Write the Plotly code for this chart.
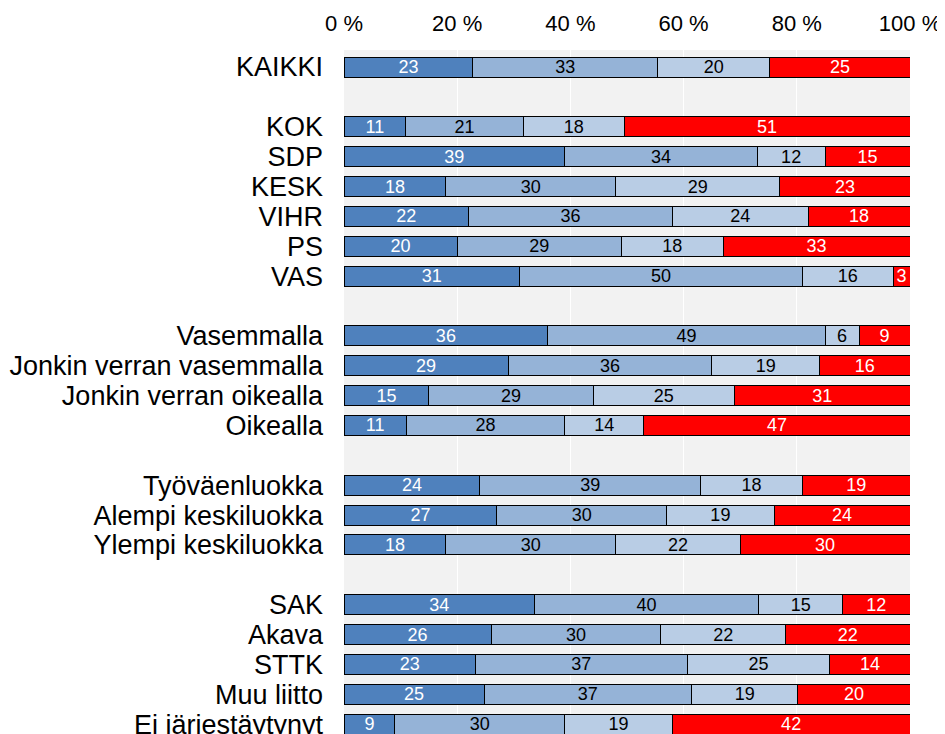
import plotly.graph_objects as go

# Data
categories = [
    "KAIKKI",
    "KOK", "SDP", "KESK", "VIHR", "PS", "VAS",
    "Vasemmalla", "Jonkin verran vasemmalla", "Jonkin verran oikealla", "Oikealla",
    "Työväenluokka", "Alempi keskiluokka", "Ylempi keskiluokka",
    "SAK", "Akava", "STTK", "Muu liitto", "Ei järjestäytynyt",
]
group_sizes = [1, 6, 4, 3, 5]

s1 = [23, 11, 39, 18, 22, 20, 31, 36, 29, 15, 11, 24, 27, 18, 34, 26, 23, 25, 9]
s2 = [33, 21, 34, 30, 36, 29, 50, 49, 36, 29, 28, 39, 30, 30, 40, 30, 37, 37, 30]
s3 = [20, 18, 12, 29, 24, 18, 16, 6, 19, 25, 14, 18, 19, 22, 15, 22, 25, 19, 19]
s4 = [25, 51, 15, 23, 18, 33, 3, 9, 16, 31, 47, 19, 24, 30, 12, 22, 14, 20, 42]

x_ticks = [0, 20, 40, 60, 80, 100]
x_ticklabels = ["0 %", "20 %", "40 %", "60 %", "80 %", "100 %"]

series = [s1, s2, s3, s4]
colors = ["#4F81BD", "#95B3D7", "#B9CDE5", "#FF0000"]
text_colors = ["white", "black", "black", "white"]

# Row positions with a gap row between groups
positions = []
p = 0
for g in group_sizes:
    for _ in range(g):
        positions.append(p)
        p += 1
    p += 1

fig = go.Figure()
for vals, col, tcol in zip(series, colors, text_colors):
    fig.add_trace(go.Bar(
        x=vals, y=positions, orientation="h",
        marker=dict(color=col, line=dict(color="black", width=1)),
        width=0.67,
        text=[str(v) for v in vals],
        textposition="inside",
        insidetextanchor="middle",
        textangle=0,
        insidetextfont=dict(color=tcol, size=18, family="Arial, Liberation Sans, sans-serif"),
        showlegend=False,
        hoverinfo="skip",
    ))

fig.update_layout(
    width=937, height=726,
    barmode="stack", barnorm="percent",
    margin=dict(l=336, r=35, t=42, b=0),
    paper_bgcolor="white",
    plot_bgcolor="#F2F2F2",
    font=dict(family="Arial, Liberation Sans, sans-serif", color="black"),
    uniformtext=dict(minsize=18, mode="show"),
    xaxis=dict(
        side="top", range=[0, 100], tickvals=x_ticks, ticktext=x_ticklabels,
        showgrid=True, gridcolor="white", gridwidth=1, zeroline=False,
        tickfont=dict(size=22, color="black"), ticks="", automargin=False,
        ticklabelstandoff=14, fixedrange=True, ticklabeloverflow="allow",
    ),
    yaxis=dict(
        range=[22.33, -0.57], tickvals=positions, ticktext=categories,
        showgrid=False, zeroline=False, tickfont=dict(size=27, color="black"),
        ticks="", automargin=False, ticklabelstandoff=20, fixedrange=True,
        ticklabeloverflow="allow",
    ),
)

fig.write_html("out.html")
